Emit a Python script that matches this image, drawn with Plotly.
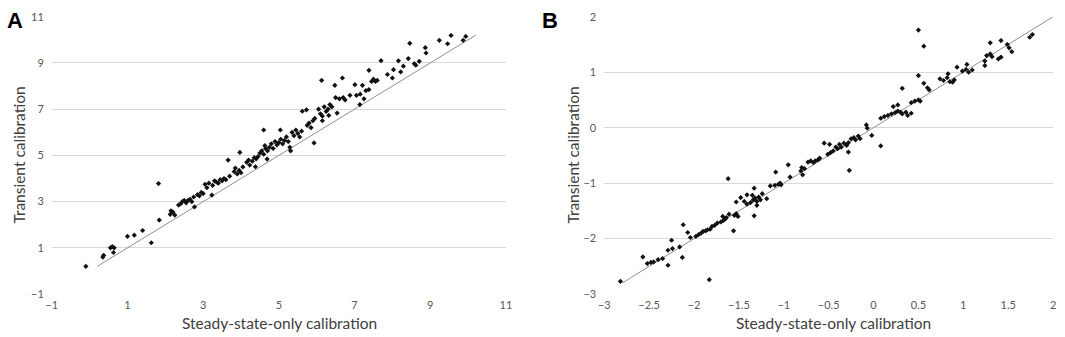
import plotly.graph_objects as go

# ---------------- Panel A data ----------------
a_x = [-0.1, 0.35, 0.37, 0.55, 0.6, 0.65, 0.63, 1.0, 1.18, 1.4, 1.63, 1.82, 1.84,
       2.13, 2.15, 2.2, 2.25, 2.35, 2.4, 2.45, 2.5, 2.55, 2.6, 2.65, 2.7, 2.75, 2.77,
       2.85, 2.9, 2.95, 3.0, 3.05, 3.1, 3.15, 3.23, 3.25, 3.3, 3.35, 3.4, 3.45, 3.5,
       3.55, 3.6, 3.66, 3.7, 3.82, 3.85, 3.9, 3.95, 3.97, 4.0, 4.05, 4.15, 4.2, 4.23,
       4.3, 4.35, 4.38, 4.4, 4.45, 4.5, 4.55, 4.6, 4.6, 4.63, 4.65, 4.69, 4.7, 4.75,
       4.8, 4.85, 4.9, 4.95, 5.0, 5.04, 5.05, 5.1, 5.15, 5.2, 5.25, 5.29, 5.31, 5.35,
       5.4, 5.45, 5.5, 5.55, 5.6, 5.62, 5.73, 5.75, 5.8, 5.85, 5.9, 5.93, 5.95, 6.05,
       6.1, 6.13, 6.15, 6.15, 6.2, 6.25, 6.3, 6.32, 6.35, 6.4, 6.48, 6.5, 6.54, 6.6,
       6.68, 6.7, 6.75, 6.88, 7.01, 7.05, 7.14, 7.15, 7.21, 7.25, 7.3, 7.38, 7.38,
       7.45, 7.5, 7.55, 7.6, 7.7, 7.87, 8.0, 8.03, 8.16, 8.22, 8.29, 8.42, 8.46, 8.58,
       8.62, 8.71, 8.87, 8.89, 9.24, 9.46, 9.55, 9.87, 9.94]
a_y = [0.2, 0.6, 0.68, 1.0, 1.05, 1.0, 0.8, 1.5, 1.55, 1.75, 1.22, 3.78, 2.2,
       2.45, 2.6, 2.55, 2.42, 2.85, 2.9, 3.0, 3.05, 2.95, 3.05, 3.1, 3.0, 3.2, 2.77,
       3.3, 3.25, 3.4, 3.35, 3.75, 3.6, 3.8, 3.28, 3.7, 3.9, 3.85, 3.8, 3.95, 3.9,
       4.0, 3.95, 4.8, 4.1, 4.3, 4.45, 4.2, 4.35, 5.13, 4.25, 4.5, 4.7, 4.8, 4.58,
       4.75, 4.9, 4.51, 4.85, 4.95, 5.1, 5.2, 5.05, 6.1, 5.42, 5.3, 4.84, 5.2, 5.35,
       5.5, 5.3, 5.6, 5.45, 5.55, 6.1, 5.7, 5.5, 5.65, 5.8, 5.6, 5.35, 5.2, 6.0,
       5.85, 6.1, 5.95, 5.8, 6.05, 6.91, 6.97, 6.3, 6.4, 6.2, 6.5, 5.54, 6.6, 7.0,
       6.8, 8.25, 6.5, 6.7, 7.1, 6.9, 7.0, 6.73, 7.2, 7.1, 8.03, 7.5, 6.83, 7.45,
       8.35, 7.5, 7.4, 7.6, 8.06, 7.6, 7.2, 7.65, 8.03, 7.45, 7.8, 7.85, 8.68,
       8.2, 8.3, 8.2, 8.25, 9.1, 8.5, 8.35, 8.71, 9.09, 8.61, 8.86, 9.19, 9.85, 8.97,
       8.9, 9.07, 9.66, 9.43, 9.98, 9.83, 10.19, 9.98, 10.15]
a_line = [0.2, 10.2]
a_ticks = [-1, 1, 3, 5, 7, 9, 11]

# ---------------- Panel B data ----------------
b_x = [-2.82, -2.57, -2.52, -2.48, -2.45, -2.4, -2.35, -2.29, -2.29, -2.24, -2.25,
       -2.16, -2.13, -2.12, -2.07, -2.04, -1.98, -1.95, -1.92, -1.9, -1.87, -1.85,
       -1.83, -1.82, -1.8, -1.77, -1.74, -1.7, -1.67, -1.65, -1.68, -1.64, -1.62,
       -1.61, -1.56, -1.55, -1.53, -1.51, -1.53, -1.48, -1.44, -1.41, -1.41, -1.37,
       -1.34, -1.32, -1.3, -1.28, -1.26, -1.33, -1.33, -1.35, -1.3, -1.24, -1.19,
       -1.15, -1.1, -1.06, -1.04, -1.03, -1.09, -0.95, -0.93, -0.81, -0.8, -0.77,
       -0.79, -0.73, -0.7, -0.67, -0.65, -0.62, -0.6, -0.55, -0.49, -0.51, -0.48,
       -0.45, -0.42, -0.4, -0.38, -0.36, -0.33, -0.3, -0.28, -0.28, -0.27, -0.25,
       -0.22, -0.2, -0.17, -0.15, -0.08, -0.07, -0.02, 0.08, 0.08, 0.12, 0.16, 0.2,
       0.24, 0.27, 0.3, 0.22, 0.27, 0.32, 0.32, 0.36, 0.38, 0.42, 0.42, 0.46, 0.5,
       0.52, 0.5, 0.5, 0.56, 0.56, 0.6, 0.62, 0.74, 0.78, 0.82, 0.85, 0.88, 0.9,
       0.83, 0.93, 0.99, 1.03, 1.06, 1.1, 1.04, 1.24, 1.24, 1.26, 1.3, 1.32, 1.3,
       1.42, 1.39, 1.42, 1.49, 1.51, 1.54, 1.74, 1.77]
b_y = [-2.77, -2.33, -2.45, -2.43, -2.42, -2.38, -2.36, -2.48, -2.21, -2.18, -2.03,
       -2.15, -2.34, -1.75, -1.89, -1.98, -1.96, -1.93, -1.9, -1.87, -1.86, -1.84,
       -2.74, -1.83, -1.78, -1.76, -1.72, -1.7, -1.67, -1.64, -1.6, -1.62, -0.92,
       -1.56, -1.86, -1.58, -1.55, -1.6, -1.34, -1.26, -1.33, -1.21, -1.38, -1.35,
       -1.3, -1.27, -1.33, -1.25, -1.3, -1.09, -1.59, -1.22, -1.4, -1.19, -1.28,
       -1.05, -1.04, -1.02, -1.0, -1.03, -0.8, -0.67, -0.89, -0.78, -0.72, -0.74,
       -0.85, -0.62, -0.6, -0.63, -0.6, -0.58, -0.55, -0.28, -0.3, -0.48, -0.45,
       -0.42, -0.35, -0.38, -0.3, -0.35, -0.28, -0.32, -0.27, -0.44, -0.77, -0.2,
       -0.18, -0.22, -0.15, -0.2, 0.05, -0.01, -0.14, -0.33, 0.17, 0.2, 0.22, 0.25,
       0.27, 0.3, 0.28, 0.38, 0.41, 0.71, 0.25, 0.28, 0.22, 0.26, 0.45, 0.48, 0.5,
       0.48, 0.94, 1.76, 1.47, 0.8, 0.72, 0.68, 0.88, 0.85, 0.9, 0.83, 0.82, 0.86,
       0.97, 1.09, 1.02, 1.05, 1.0, 1.04, 1.14, 1.2, 1.12, 1.3, 1.33, 1.28, 1.53,
       1.57, 1.24, 1.27, 1.5, 1.44, 1.37, 1.63, 1.68]
b_line = [-2.8, 2.0]
b_xticks = [-3, -2.5, -2, -1.5, -1, -0.5, 0, 0.5, 1, 1.5, 2]
b_yticks = [-3, -2, -1, 0, 1, 2]

x_title = "Steady-state-only calibration"
y_title = "Transient calibration"

W, H = 1065, 337
PAD = 8  # the photographed page shows an extra 8 px band around the figure
KX, KY = (W + 2 * PAD) / W, (H + 2 * PAD) / H
GRID = "#d9d9d9"
TICK = "#595959"
FONT = "Lato"

fig = go.Figure()

marker = dict(color="#111111", size=4, symbol="diamond")
line_style = dict(color="#8f8f8f", width=1)

fig.add_trace(go.Scatter(x=a_line, y=a_line, mode="lines", line=line_style,
                         xaxis="x", yaxis="y", showlegend=False, hoverinfo="skip"))
fig.add_trace(go.Scatter(x=a_x, y=a_y, mode="markers", marker=marker,
                         xaxis="x", yaxis="y", showlegend=False))
fig.add_trace(go.Scatter(x=b_line, y=b_line, mode="lines", line=line_style,
                         xaxis="x2", yaxis="y2", showlegend=False, hoverinfo="skip"))
fig.add_trace(go.Scatter(x=b_x, y=b_y, mode="markers", marker=marker,
                         xaxis="x2", yaxis="y2", showlegend=False))

# target picture pixel -> figure paper coordinate
def px_x(o):
    p = o * KX - PAD
    return min(max(p / W, 0.0), 1.0)

def px_y(o):
    p = o * KY - PAD
    return min(max(1 - p / H, 0.0), 1.0)

ydom = [px_y(292.7), px_y(17.3)]
tickfont = dict(family=FONT, size=11, color=TICK)

common_x = dict(showgrid=False, zeroline=False, showline=False, ticks="",
                tickfont=tickfont, ticklabelstandoff=3, fixedrange=True)
common_y = dict(showgrid=True, gridcolor=GRID, gridwidth=1, zeroline=False,
                showline=False, ticks="", tickfont=tickfont,
                ticklabelstandoff=7, fixedrange=True)

fig.update_layout(
    width=W, height=H,
    margin=dict(l=0, r=0, t=0, b=0),
    paper_bgcolor="white", plot_bgcolor="white",
    font=dict(family=FONT, color=TICK),
    xaxis=dict(domain=[px_x(53.5), px_x(506)], range=[-1, 11],
               tickmode="array", tickvals=a_ticks, anchor="y", **common_x),
    yaxis=dict(domain=ydom, range=[-1, 11], tickmode="array", tickvals=a_ticks,
               anchor="x", **common_y),
    xaxis2=dict(domain=[px_x(604), 1059 / W], range=[-3, 2],
                tickmode="array", tickvals=b_xticks, anchor="y2", **common_x),
    yaxis2=dict(domain=ydom, range=[-3, 2], tickmode="array", tickvals=b_yticks,
                anchor="x2", **common_y),
)

title_font = dict(family=FONT, size=15.5, color="#404040")
letter_font = dict(family="Liberation Sans", size=22, color="#000000")
ann = [
    dict(text=x_title, x=px_x(280), y=1 - 328.5 / H, xref="paper", yref="paper",
         showarrow=False, font=title_font, xanchor="center", yanchor="middle"),
    dict(text=x_title, x=px_x(832), y=1 - 328.5 / H, xref="paper", yref="paper",
         showarrow=False, font=title_font, xanchor="center", yanchor="middle"),
    dict(text=y_title, x=px_x(21), y=px_y(155), xref="paper", yref="paper",
         showarrow=False, font=title_font, textangle=-90,
         xanchor="center", yanchor="middle"),
    dict(text=y_title, x=px_x(573), y=px_y(155), xref="paper", yref="paper",
         showarrow=False, font=title_font, textangle=-90,
         xanchor="center", yanchor="middle"),
    dict(text="<b>A</b>", x=0, y=1, xref="paper", yref="paper",
         showarrow=False, font=letter_font, xanchor="left", yanchor="top",
         borderpad=0),
    dict(text="<b>B</b>", x=px_x(541), y=1, xref="paper", yref="paper",
         showarrow=False, font=letter_font, xanchor="left", yanchor="top",
         borderpad=0),
]
fig.update_layout(annotations=ann)

fig.write_html("out.html", config={"displayModeBar": False},
               post_script="document.body.style.margin='0';document.body.style.overflow='hidden';")
